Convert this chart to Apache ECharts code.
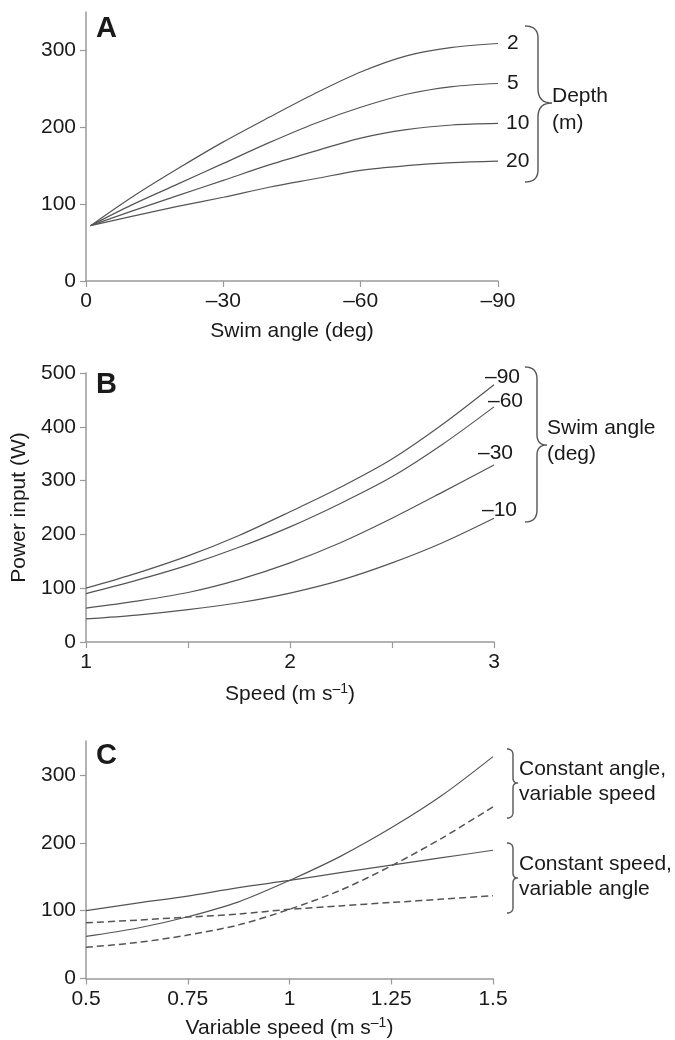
<!DOCTYPE html>
<html>
<head>
<meta charset="utf-8">
<script src="https://cdn.jsdelivr.net/npm/echarts@6/dist/echarts.min.js"></script>
<style>
html,body{margin:0;padding:0;background:#fff;}
#chart{width:675px;height:1040px;}
</style>
</head>
<body>
<div id="chart"></div>
<script>
// ---------- Panel A: power vs swim angle at several depths ----------
const angleA = [-1, -10, -20, -30, -40, -50, -60, -70, -80, -90];
const depthNames = ['2', '5', '10', '20'];
const powerDepth2  = [72, 109, 146, 181, 213, 244, 272, 293, 304, 309];
const powerDepth5  = [72, 99, 126, 153, 180, 205, 226, 243, 253, 257];
const powerDepth10 = [72, 91, 111, 131, 151, 169, 186, 197, 203, 205];
const powerDepth20 = [72, 84, 97, 109, 122, 133, 144, 150, 154, 156];
const ticksA_y = [0, 100, 200, 300];

// ---------- Panel B: power vs speed at several swim angles ----------
const speedB = [1, 1.25, 1.5, 1.75, 2, 2.25, 2.5, 2.75, 3];
const angleNames = ['–90', '–60', '–30', '–10'];
const powerAngle90 = [100, 128, 160, 198, 242, 288, 340, 405, 478];
const powerAngle60 = [90, 115, 143, 176, 214, 258, 307, 368, 437];
const powerAngle30 = [63, 76, 92, 116, 147, 185, 230, 279, 329];
const powerAngle10 = [43, 50, 60, 73, 91, 115, 147, 185, 230];

// ---------- Panel C: variable speed ----------
const speedC = [0.5, 0.625, 0.75, 0.875, 1, 1.125, 1.25, 1.375, 1.5];
const constAngleSolid  = [62, 74, 91, 113, 144.5, 180, 222, 270, 327];
const constAngleDashed = [46, 53, 64, 79, 102, 130, 166, 207, 253];
const constSpeedSolid  = [100, 111, 121.5, 134, 144.5, 156, 167, 178, 189];
const constSpeedDashed = [82, 86, 90.5, 95, 102, 107, 112, 117, 122];
const ticksC_y = [0, 100, 200, 300];

const FONT = '"Liberation Sans", Arial, Helvetica, sans-serif';
const FS = 21;
const TXT = '#1a1a1a';
const AXIS = '#9a9a9a';
const LINE = '#555';

function pairs(xs, ys) { return xs.map((x, i) => [x, ys[i]]); }
function dashFmt(v) { return String(v).replace('-', '–'); }

function baseAxis(extra) {
  return Object.assign({
    type: 'value',
    splitLine: { show: false },
    axisLine: { show: true, lineStyle: { color: AXIS, width: 1.5 } },
    axisTick: { show: true, length: 6, lineStyle: { color: AXIS, width: 1.2 } },
    axisLabel: { color: TXT, fontSize: FS, fontFamily: FONT, margin: 10 },
    nameTextStyle: { color: TXT, fontSize: FS, fontFamily: FONT },
    nameLocation: 'middle'
  }, extra);
}

const chart = echarts.init(document.getElementById('chart'), null, { renderer: 'canvas' });

function quad(p0, c, p1, n, out) {
  for (let i = 1; i <= n; i++) {
    const t = i / n, u = 1 - t;
    out.push([u * u * p0[0] + 2 * u * t * c[0] + t * t * p1[0], u * u * p0[1] + 2 * u * t * c[1] + t * t * p1[1]]);
  }
}
function brace(x0, xv, xt, yTop, yBot, yMid) {
  const r = Math.min(xv - x0, 12);
  const r2 = xt - xv;
  const pts = [[x0, yTop]];
  quad([x0, yTop], [xv, yTop], [xv, yTop + r], 10, pts);
  pts.push([xv, yMid - r2]);
  quad([xv, yMid - r2], [xv, yMid], [xt, yMid], 8, pts);
  quad([xt, yMid], [xv, yMid], [xv, yMid + r2], 8, pts);
  pts.push([xv, yBot - r]);
  quad([xv, yBot - r], [xv, yBot], [x0, yBot], 10, pts);
  return { type: 'polyline', shape: { points: pts }, style: { fill: null, stroke: '#555', lineWidth: 1.4 }, silent: true };
}
function txt(x, y, text, size, weight, lh) {
  return { type: 'text', x: x, y: y, style: { text: text, fill: TXT, font: (weight || 'normal') + ' ' + size + 'px ' + FONT, lineHeight: lh || size, verticalAlign: 'middle', align: 'left' }, silent: true };
}

const lineSeries = (name, xi, yi, xs, ys, type, labelOffset) => ({
  name: name,
  type: 'line',
  xAxisIndex: xi, yAxisIndex: yi,
  data: pairs(xs, ys),
  smooth: 0.3,
  showSymbol: false,
  symbol: 'none',
  lineStyle: { color: LINE, width: type === 'dashed' ? 1.5 : 1.2, type: type === 'dashed' ? [7, 4] : 'solid' },
  endLabel: labelOffset ? { show: true, formatter: name, color: TXT, fontSize: FS, fontFamily: FONT, distance: 0, align: 'left', verticalAlign: 'middle', offset: labelOffset } : { show: false },
  emphasis: { disabled: true },
  silent: true
});

const option = {
  animation: false,
  backgroundColor: '#fff',
  grid: [
    { left: 86, top: 12, width: 412, height: 269 },
    { left: 86, top: 373, width: 408, height: 269 },
    { left: 86, top: 741, width: 407, height: 238 }
  ],
  xAxis: [
    baseAxis({ gridIndex: 0, min: -90, max: 0, interval: 30, inverse: true,
      axisLabel: { color: TXT, fontSize: FS, fontFamily: FONT, margin: 10, formatter: dashFmt },
      name: 'Swim angle (deg)', nameGap: 40 }),
    baseAxis({ gridIndex: 1, min: 1, max: 3, interval: 0.5,
      axisLabel: { color: TXT, fontSize: FS, fontFamily: FONT, margin: 10, formatter: v => (Number.isInteger(v) ? String(v) : '') },
      name: '{n|Speed (m s}{s|–1}{n|)}', nameGap: 40,
      nameTextStyle: { rich: { n: { fontSize: FS, fontFamily: FONT, color: TXT }, s: { fontSize: 14, fontFamily: FONT, color: TXT, verticalAlign: 'top', padding: [0, 0, 10, 0] } } } }),
    baseAxis({ gridIndex: 2, min: 0.5, max: 1.5, interval: 0.25,
      name: '{n|Variable speed (m s}{s|–1}{n|)}', nameGap: 38,
      nameTextStyle: { rich: { n: { fontSize: FS, fontFamily: FONT, color: TXT }, s: { fontSize: 14, fontFamily: FONT, color: TXT, verticalAlign: 'top', padding: [0, 0, 10, 0] } } } })
  ],
  yAxis: [
    baseAxis({ gridIndex: 0, min: 0, max: 350, interval: 50,
      axisLabel: { color: TXT, fontSize: FS, fontFamily: FONT, margin: 10, formatter: v => (ticksA_y.indexOf(v) >= 0 ? String(v) : '') },
      axisTick: { show: true, length: 6, customValues: ticksA_y, lineStyle: { color: AXIS, width: 1.2 } } }),
    baseAxis({ gridIndex: 1, min: 0, max: 500, interval: 100,
      name: 'Power input (W)', nameGap: 56 }),
    baseAxis({ gridIndex: 2, min: 0, max: 350, interval: 50,
      axisLabel: { color: TXT, fontSize: FS, fontFamily: FONT, margin: 10, formatter: v => (ticksC_y.indexOf(v) >= 0 ? String(v) : '') },
      axisTick: { show: true, length: 6, customValues: ticksC_y, lineStyle: { color: AXIS, width: 1.2 } } })
  ],
  series: [
    lineSeries(depthNames[0], 0, 0, angleA, powerDepth2, 'solid', [9, 0]),
    lineSeries(depthNames[1], 0, 0, angleA, powerDepth5, 'solid', [9, 0]),
    lineSeries(depthNames[2], 0, 0, angleA, powerDepth10, 'solid', [8, 0]),
    lineSeries(depthNames[3], 0, 0, angleA, powerDepth20, 'solid', [8, 0]),
    lineSeries(angleNames[0], 1, 1, speedB, powerAngle90, 'solid', [-9, -8]),
    lineSeries(angleNames[1], 1, 1, speedB, powerAngle60, 'solid', [-6, -6]),
    lineSeries(angleNames[2], 1, 1, speedB, powerAngle30, 'solid', [-16, -12]),
    lineSeries(angleNames[3], 1, 1, speedB, powerAngle10, 'solid', [-12, -8]),
    lineSeries('Constant angle, variable speed (solid)', 2, 2, speedC, constAngleSolid, 'solid'),
    lineSeries('Constant angle, variable speed (dashed)', 2, 2, speedC, constAngleDashed, 'dashed'),
    lineSeries('Constant speed, variable angle (solid)', 2, 2, speedC, constSpeedSolid, 'solid'),
    lineSeries('Constant speed, variable angle (dashed)', 2, 2, speedC, constSpeedDashed, 'dashed')
  ],
  graphic: [
    txt(96, 29, 'A', 29, 'bold'),
    txt(96, 385, 'B', 29, 'bold'),
    txt(96, 756, 'C', 29, 'bold'),
    brace(525, 538, 552, 26, 182, 103),
    txt(552, 110, 'Depth\n(m)', FS, 'normal', 27),
    brace(525, 537, 547, 367, 522, 445),
    txt(547, 441, 'Swim angle\n(deg)', FS, 'normal', 26),
    brace(507, 513, 518, 749, 818, 783),
    txt(519, 782, 'Constant angle,\nvariable speed', FS, 'normal', 25),
    brace(507, 513, 518, 843, 913, 878),
    txt(519, 877, 'Constant speed,\nvariable angle', FS, 'normal', 25)
  ]
};
chart.setOption(option);
</script>
</body>
</html>
